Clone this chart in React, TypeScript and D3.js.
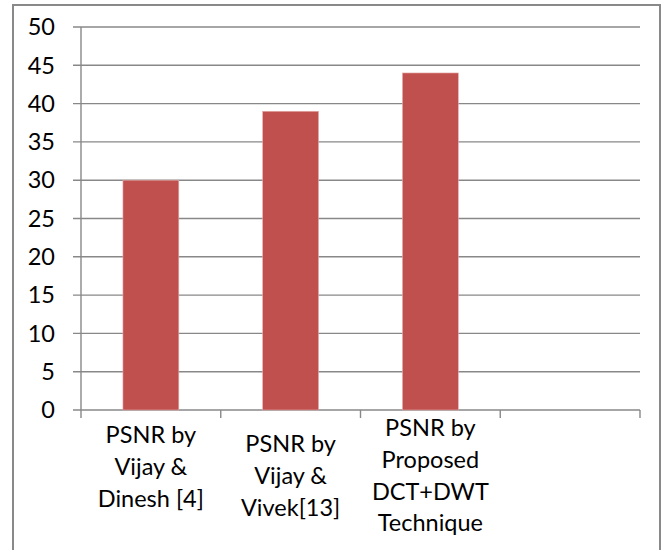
import React from "react";
import * as d3 from "d3";

const categories: string[][] = [
  ["PSNR by", "Vijay &", "Dinesh [4]"],
  ["PSNR by", "Vijay &", "Vivek[13]"],
  ["PSNR by", "Proposed", "DCT+DWT", "Technique"],
  [],
];
const values: (number | null)[] = [30, 39, 44, null];
const yTicks: number[] = [0, 5, 10, 15, 20, 25, 30, 35, 40, 45, 50];

const W = 665;
const H = 550;
const left = 81;
const right = 640;
const top = 27;
const bottom = 410;
const FONT = "Lato, 'Open Sans', sans-serif";
const FS = 23.5;
const GRID = "#888888";
const labelFirstBaseline = [443, 452, 436, 436];
const lineStep = 31.8;

export default function App() {
  const x = d3
    .scaleBand<number>()
    .domain(categories.map((_, i) => i))
    .range([left, right])
    .padding(0);
  const y = d3.scaleLinear().domain([0, 50]).range([bottom, top]);
  const bw = x.bandwidth();
  const barW = bw * 0.4;

  return (
    <svg
      width={W}
      height={H}
      style={{ position: "absolute", left: 0, top: 0, background: "#fff" }}
    >
      <rect x={13} y={5} width={647} height={560} fill="#fff" stroke="#898989" strokeWidth={2} />
      {yTicks.map((t) => (
        <g key={t}>
          <line
            x1={left - 8}
            x2={right}
            y1={y(t)}
            y2={y(t)}
            stroke={GRID}
            strokeWidth={1.4}
          />
          <text
            x={55}
            y={y(t)}
            dy="0.35em"
            textAnchor="end"
            fontFamily={FONT}
            fontSize={FS}
            fill="#000"
          >
            {t}
          </text>
        </g>
      ))}
      <line x1={left} x2={left} y1={top} y2={bottom + 8} stroke={GRID} strokeWidth={1.4} />
      {categories.map((_, i) => (
        <line
          key={"t" + i}
          x1={(x(i) as number) + bw}
          x2={(x(i) as number) + bw}
          y1={bottom}
          y2={bottom + 8}
          stroke={GRID}
          strokeWidth={1.4}
        />
      ))}
      {values.map((v, i) =>
        v == null ? null : (
          <rect
            key={"b" + i}
            x={(x(i) as number) + (bw - barW) / 2}
            y={y(v)}
            width={barW}
            height={y(0) - y(v)}
            fill="#C0504D"
            stroke="#e6b0ae"
            strokeWidth={0.6}
          />
        )
      )}
      {categories.map((lines, i) => (
        <text
          key={"l" + i}
          textAnchor="middle"
          fontFamily={FONT}
          fontSize={FS}
          fill="#000"
        >
          {lines.map((ln, j) => (
            <tspan
              key={j}
              x={(x(i) as number) + bw / 2}
              y={labelFirstBaseline[i] + j * lineStep}
            >
              {ln}
            </tspan>
          ))}
        </text>
      ))}
    </svg>
  );
}
